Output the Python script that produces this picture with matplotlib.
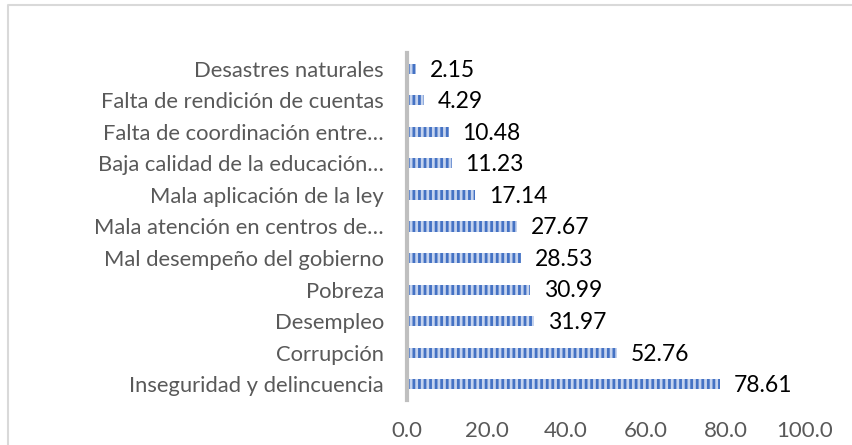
import matplotlib.pyplot as plt
from matplotlib.lines import Line2D

plt.rcParams['font.family'] = ['Lato', 'DejaVu Sans']
plt.rcParams['hatch.linewidth'] = 2.0

# categories from bottom to top
categories = [
    'Inseguridad y delincuencia',
    'Corrupción',
    'Desempleo',
    'Pobreza',
    'Mal desempeño del gobierno',
    'Mala atención en centros de…',
    'Mala aplicación de la ley',
    'Baja calidad de la educación…',
    'Falta de coordinación entre…',
    'Falta de rendición de cuentas',
    'Desastres naturales',
]
values = [78.61, 52.76, 31.97, 30.99, 28.53, 27.67, 17.14, 11.23, 10.48, 4.29, 2.15]
xticks = [0, 20, 40, 60, 80, 100]

W, H = 853, 445
fig = plt.figure(figsize=(W / 100, H / 100), dpi=100, facecolor='w')
ax = fig.add_axes([407 / W, 45 / H, (805 - 407) / W, (400 - 53) / H])

pos = range(len(categories))
ax.barh(pos, values, height=0.32, color='#c5d3ee', edgecolor='#4472c4',
        hatch='|||', linewidth=0)

for y, v in zip(pos, values):
    ax.annotate('{0:.2f}'.format(v), xy=(v, y), xytext=(10, -1),
                textcoords='offset points', va='center', ha='left',
                fontsize=16.5, color='black')

ax.set_xlim(0, 100)
ax.set_ylim(-0.5, len(categories) - 0.5)
ax.set_yticks(list(pos))
ax.set_yticklabels(categories, fontsize=15.8, color='#595959')
ax.set_xticks(xticks)
ax.set_xticklabels(['{0:.1f}'.format(t) for t in xticks], fontsize=16, color='#595959')
ax.tick_params(axis='both', length=0)
ax.tick_params(axis='y', pad=16.5)
ax.tick_params(axis='x', pad=15)

for spine in ('top', 'right', 'bottom'):
    ax.spines[spine].set_visible(False)
ax.spines['left'].set_color('#bfbfbf')
ax.spines['left'].set_linewidth(3)

# light chart-area border (top and left)
fig.add_artist(Line2D([8 / W, 8 / W, 1], [0, 1 - 5 / H, 1 - 5 / H],
                      transform=fig.transFigure, color='#d9d9d9', lw=1.5))

fig.savefig('out.png', dpi=100, facecolor='w')
